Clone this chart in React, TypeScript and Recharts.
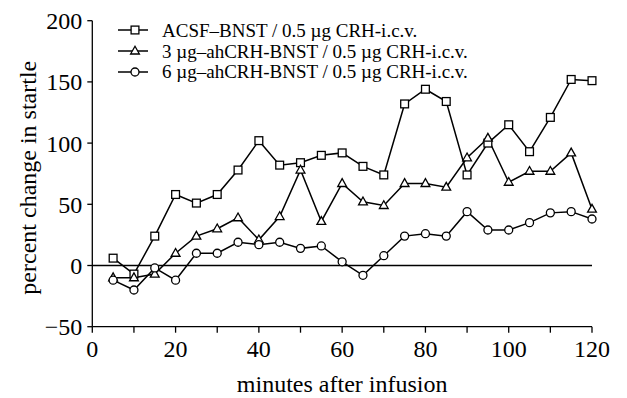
import React from 'react';
import { LineChart, Line, XAxis, YAxis, ReferenceLine } from 'recharts';

const minutes = [5, 10, 15, 20, 25, 30, 35, 40, 45, 50, 55, 60, 65, 70, 75, 80, 85, 90, 95, 100, 105, 110, 115, 120];
const acsf = [6, -7, 24, 58, 51, 58, 78, 102, 82, 84, 90, 92, 81, 74, 132, 144, 134, 74, 100, 115, 93, 121, 152, 151];
const ah3 = [-10, -10, -7, 10, 24, 30, 39, 21, 40, 78, 36, 67, 52, 49, 67, 67, 64, 88, 104, 68, 77, 77, 92, 46];
const ah6 = [-12, -20, -2, -12, 10, 10, 19, 17, 19, 14, 16, 3, -8, 8, 24, 26, 24, 44, 29, 29, 35, 43, 44, 38];

const xTicks = [0, 10, 20, 30, 40, 50, 60, 70, 80, 90, 100, 110, 120];
const yTicks = [-50, 0, 50, 100, 150, 200];
const seriesNames = [
  'ACSF\u2013BNST / 0.5 \u00b5g CRH-i.c.v.',
  '3 \u00b5g\u2013ahCRH-BNST / 0.5 \u00b5g CRH-i.c.v.',
  '6 \u00b5g\u2013ahCRH-BNST / 0.5 \u00b5g CRH-i.c.v.',
];
const shapes = ['square', 'triangle', 'circle'];
const xTitle = 'minutes after infusion';
const yTitle = 'percent change in startle';

const data = minutes.map((m, i) => ({ m, acsf: acsf[i], ah3: ah3[i], ah6: ah6[i] }));

const FONT = '"Liberation Serif", "Times New Roman", serif';

function Marker({ shape, cx, cy }: { shape: string; cx: number; cy: number }) {
  const sw = 1.3;
  if (shape === 'square') {
    return <rect x={cx - 3.9} y={cy - 3.9} width={7.8} height={7.8} fill="#fff" stroke="#000" strokeWidth={sw} />;
  }
  if (shape === 'triangle') {
    return (
      <polygon
        points={`${cx},${cy - 4.8} ${cx + 4.4},${cy + 3} ${cx - 4.4},${cy + 3}`}
        fill="#fff"
        stroke="#000"
        strokeWidth={sw}
      />
    );
  }
  return <circle cx={cx} cy={cy} r={4} fill="#fff" stroke="#000" strokeWidth={sw} />;
}

const makeDot = (shape: string) => (props: any) => {
  const { cx, cy, index } = props;
  if (cx == null || cy == null) return <g key={`${shape}-${index}`} />;
  return (
    <g key={`${shape}-${index}`}>
      <Marker shape={shape} cx={cx} cy={cy} />
    </g>
  );
};

function LegendBox() {
  return (
    <div style={{ position: 'absolute', left: 116, top: 20, fontFamily: FONT, fontSize: 19, color: '#000', lineHeight: 1 }}>
      {seriesNames.map((name, i) => (
        <div key={name} style={{ display: 'flex', alignItems: 'center', height: 20.7 }}>
          <svg width={34} height={14} style={{ marginRight: 12 }}>
            <line x1={2} y1={7} x2={32} y2={7} stroke="#000" strokeWidth={1.5} />
            <Marker shape={shapes[i]} cx={19} cy={7} />
          </svg>
          <span style={{ whiteSpace: 'nowrap' }}>{name}</span>
        </div>
      ))}
    </div>
  );
}

const XTitle = (props: any) => {
  const vb = props.viewBox || {};
  return (
    <text x={vb.x + vb.width / 2} y={vb.y + vb.height - 6} textAnchor="middle" fill="#000" fontFamily={FONT} fontSize={24}>
      {xTitle}
    </text>
  );
};

const YTitle = (props: any) => {
  const vb = props.viewBox || {};
  const cx = vb.x + 28;
  const cy = vb.y + vb.height / 2 + 4;
  return (
    <text
      x={cx}
      y={cy}
      transform={`rotate(-90, ${cx}, ${cy})`}
      textAnchor="middle"
      dominantBaseline="central"
      fill="#000"
      fontFamily={FONT}
      fontSize={24}
    >
      {yTitle}
    </text>
  );
};

const fmtY = (v: number) => (v < 0 ? '\u2212' + String(Math.abs(v)) : String(v));

export default function App() {
  return (
    <div style={{ position: 'absolute', left: 0, top: 0, width: 627, height: 398, background: '#fff' }}>
      <LineChart width={627} height={398} data={data} margin={{ top: 20.7, right: 35, left: 0, bottom: 0 }}>
        <XAxis
          dataKey="m"
          type="number"
          domain={[0, 120]}
          ticks={xTicks}
          tickFormatter={(v: number) => (v % 20 === 0 ? String(v) : '')}
          tickSize={6}
          tickMargin={7}
          height={71.3}
          stroke="#000"
          strokeWidth={1.3}
          tick={{ fill: '#000', fontFamily: FONT, fontSize: 24 }}
          label={<XTitle />}
        />
        <YAxis
          type="number"
          domain={[-50, 200]}
          ticks={yTicks}
          tickFormatter={fmtY}
          width={92.3}
          tickSize={5}
          tickMargin={5}
          stroke="#000"
          strokeWidth={1.3}
          tick={{ fill: '#000', fontFamily: FONT, fontSize: 24 }}
          label={<YTitle />}
        />
        <ReferenceLine y={0} stroke="#000" strokeWidth={1.3} />
        <Line dataKey="acsf" stroke="#000" strokeWidth={1.5} isAnimationActive={false} dot={makeDot('square')} activeDot={false} />
        <Line dataKey="ah3" stroke="#000" strokeWidth={1.5} isAnimationActive={false} dot={makeDot('triangle')} activeDot={false} />
        <Line dataKey="ah6" stroke="#000" strokeWidth={1.5} isAnimationActive={false} dot={makeDot('circle')} activeDot={false} />
      </LineChart>
      <LegendBox />
    </div>
  );
}
